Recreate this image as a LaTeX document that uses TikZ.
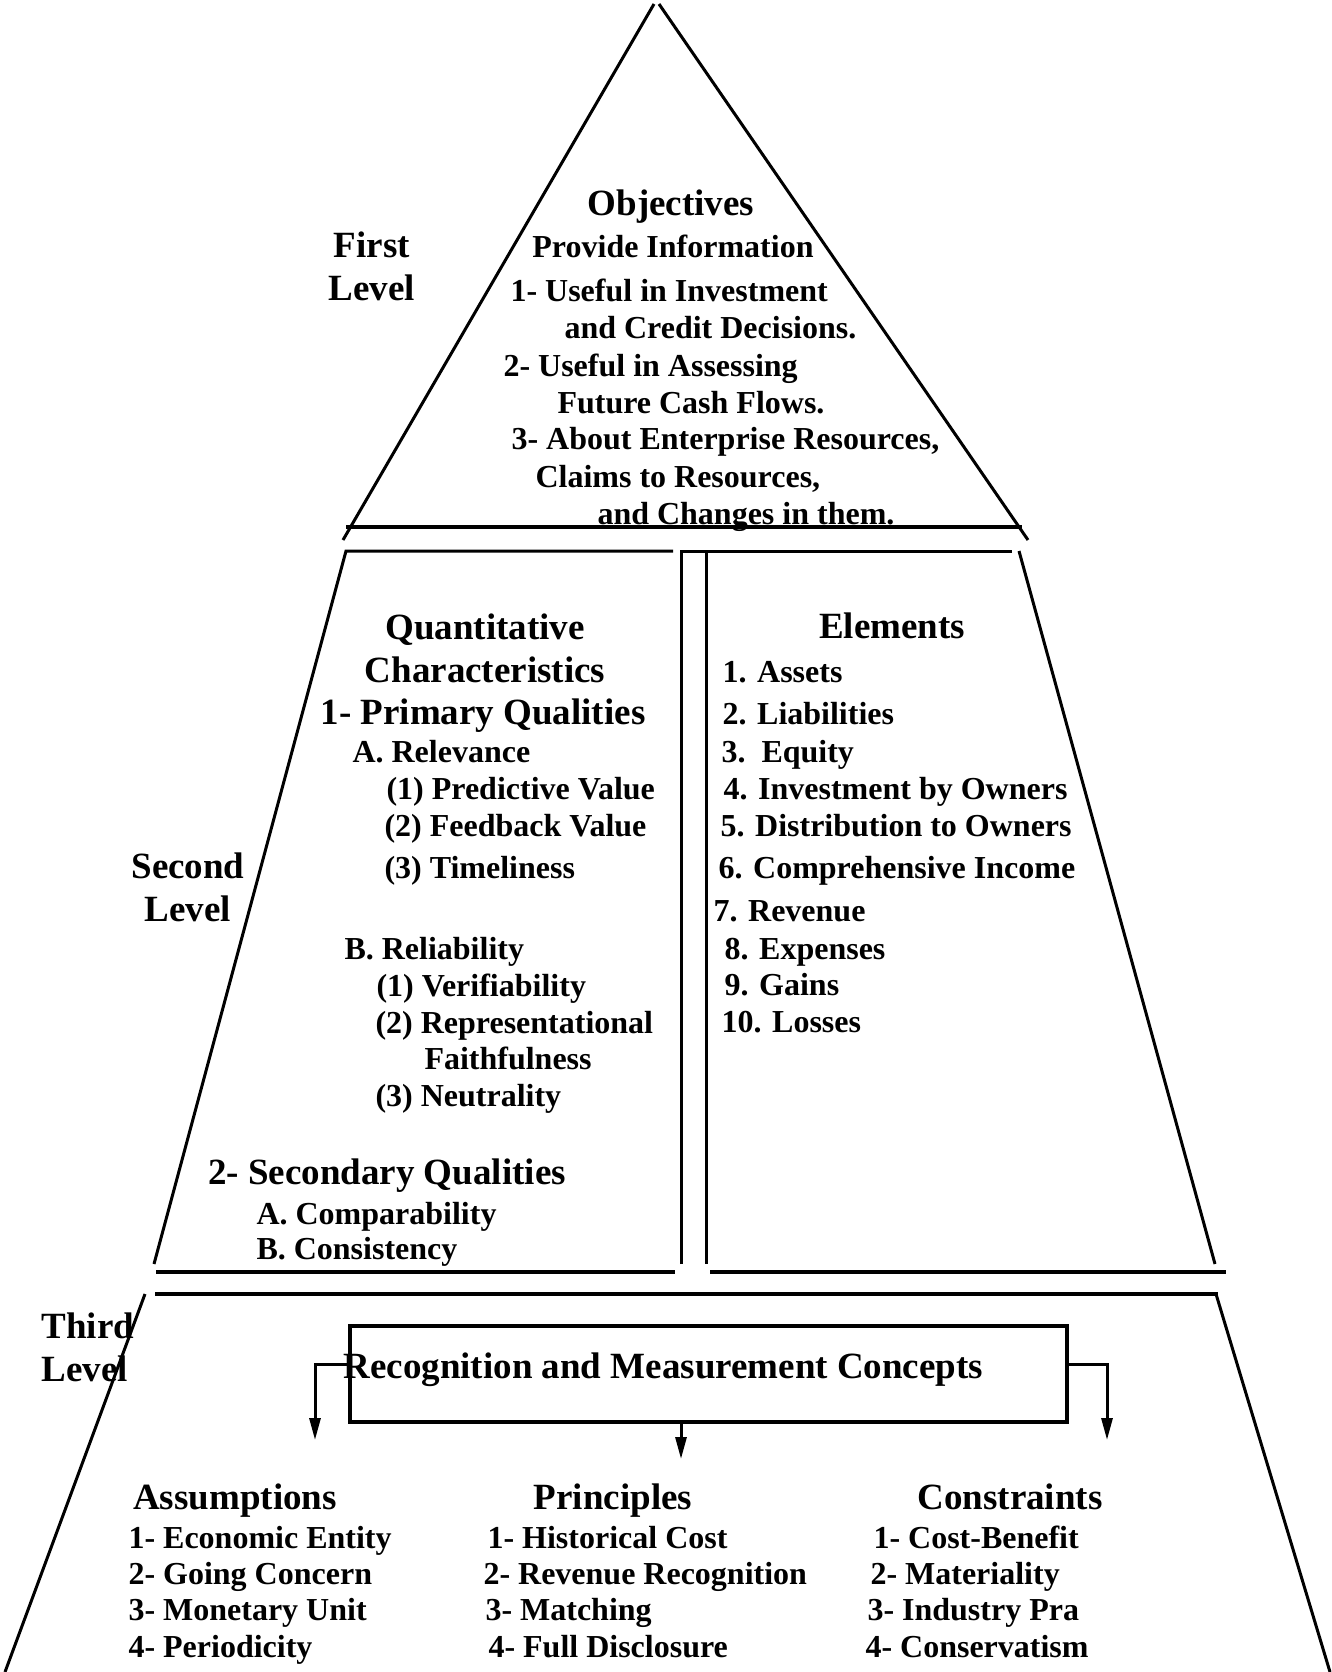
\documentclass[tikz,border=0pt]{standalone}
\usepackage{fontspec}
\setmainfont{Liberation Serif}
\usetikzlibrary{arrows.meta}

\tikzset{
  item/.style={font=\fontsize{32}{38}\selectfont\bfseries, inner sep=0pt, anchor=base west},
  head/.style={font=\fontsize{37}{43}\selectfont\bfseries, inner sep=0pt, align=center, anchor=base},
  rule/.style={line width=4pt},
  conceptbox/.style={draw, rule, minimum width=717pt, minimum height=96pt, inner sep=0pt},
}

\begin{document}
\begin{tikzpicture}[x=1pt, y=-1pt, line width=3pt, >={Triangle[length=22pt,width=11pt]}]
\useasboundingbox (0,0) rectangle (1331,1672);

% first level
\draw (654,4) -- (343,540);
\draw (659,4) -- (1028,540);
\draw[rule] (346,527) -- (1022,527);

\node[head, anchor=center] (first) at (372,266) {First\\Level};
\node[head] (obj) at (671,215) {Objectives};
\node[item, anchor=base] (provide) at (673,257) {Provide Information};
\node[item] (obj1a) at (509,301) {1- Useful in Investment};
\node[item] (obj1b) at (563,338) {and Credit Decisions.};
\node[item] (obj2a) at (502,376) {2- Useful in Assessing};
\node[item] (obj2b) at (556,413) {Future Cash Flows.};
\node[item] (obj3a) at (510,449) {3- About Enterprise Resources,};
\node[item] (obj3b) at (534,487) {Claims to Resources,};
\node[item] (obj3c) at (596,524) {and Changes in them.};

% second level
\draw (673,551) -- (346,551) -- (154,1264);
\draw[rule] (156,1272) -- (675,1272);
\draw (681,1264) -- (681,551) -- (1012,551);
\draw (706,551) -- (706,1264);
\draw (1019,551) -- (1215,1264);
\draw[rule] (710,1272) -- (1226,1272);

\node[head, anchor=center] (second) at (188,887) {Second\\Level};

\node[head, anchor=center] (quant) at (485,648) {Quantitative\\Characteristics};
\node[head] (prim) at (483,724) {1- Primary Qualities};
\node[item] (rel) at (351,762) {A. Relevance};
\node[item] (rel1) at (385,799) {(1) Predictive Value};
\node[item] (rel2) at (383,836) {(2) Feedback Value};
\node[item] (rel3) at (383,878) {(3) Timeliness};
\node[item] (reli) at (343,959) {B. Reliability};
\node[item] (reli1) at (375,996) {(1) Verifiability};
\node[item] (reli2) at (374,1033) {(2) Representational};
\node[item] (reli2b) at (423,1069) {Faithfulness};
\node[item] (reli3) at (374,1106) {(3) Neutrality};
\node[head] (sec) at (387,1184) {2- Secondary Qualities};
\node[item] (secA) at (255,1224) {A. Comparability};
\node[item] (secB) at (255,1259) {B. Consistency};

\node[head] (elem) at (892,638) {Elements};
\node[item] (el1) at (721,682) {1. Assets};
\node[item] (el2) at (721,724) {2. Liabilities};
\node[item] (el3) at (720,762) {3.\ \ Equity};
\node[item] (el4) at (722,799) {4. Investment by Owners};
\node[item] (el5) at (719,836) {5. Distribution to Owners};
\node[item] (el6) at (717,878) {6. Comprehensive Income};
\node[item] (el7) at (712,921) {7. Revenue};
\node[item] (el8) at (723,959) {8. Expenses};
\node[item] (el9) at (723,995) {9. Gains};
\node[item] (el10) at (720,1032) {10. Losses};

% third level
\draw[rule] (155,1294) -- (1218,1294);
\draw (145,1294) -- (5,1672);
\draw (1216,1294) -- (1330,1672);

\node[head, align=left, anchor=west] (third) at (40,1347) {Third\\Level};

\node[conceptbox] (rmc) at (708,1374) {};
\node[head, anchor=base west] (rmctext) at (342,1378) {Recognition and Measurement Concepts};

\coordinate (asmtip) at (315,1440);
\coordinate (printip) at (681,1459);
\coordinate (constip) at (1107,1440);
\draw[->] ([yshift=10pt]rmc.west) -| (asmtip);
\draw[->] ([yshift=10pt]rmc.east) -| (constip);
\draw[->] (rmc.south -| printip) -- (printip);

\node[head] (asm) at (235,1509) {Assumptions};
\node[head] (prin) at (613,1509) {Principles};
\node[head] (cons) at (1010,1509) {Constraints};

\foreach \name/\x/\y/\txt in {
    asm1/127/1548/1- Economic Entity, asm2/127/1584/2- Going Concern,
    asm3/127/1620/3- Monetary Unit, asm4/127/1657/4- Periodicity,
    prin1/486/1548/1- Historical Cost, prin2/482/1584/2- Revenue Recognition,
    prin3/484/1620/3- Matching, prin4/487/1657/4- Full Disclosure,
    cons1/872/1548/1- Cost-Benefit, cons2/869/1584/2- Materiality,
    cons3/866/1620/3- Industry Pra, cons4/864/1657/4- Conservatism}
  \node[item] (\name) at (\x,\y) {\txt};

\end{tikzpicture}
\end{document}
